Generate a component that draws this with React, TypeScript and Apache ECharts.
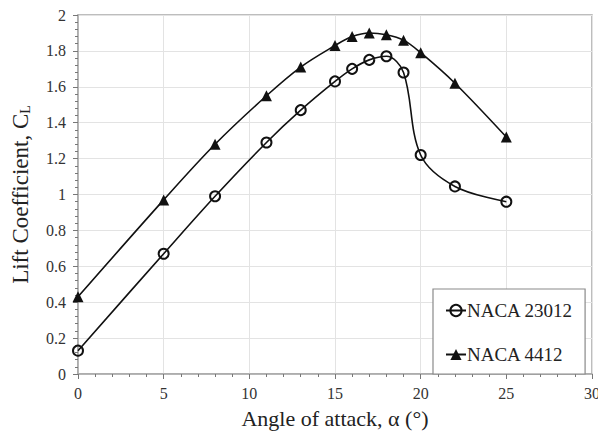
import React, { useEffect, useRef } from "react";
import * as echarts from "echarts";

const angles = [0, 5, 8, 11, 13, 15, 16, 17, 18, 19, 20, 22, 25];
const naca23012 = [0.13, 0.67, 0.99, 1.29, 1.47, 1.63, 1.7, 1.75, 1.77, 1.68, 1.22, 1.045, 0.96];
const naca4412 = [0.43, 0.97, 1.28, 1.55, 1.71, 1.83, 1.88, 1.9, 1.89, 1.86, 1.79, 1.62, 1.32];
const seriesNames = ["NACA 23012", "NACA 4412"];

const FONT = "Liberation Serif";

export default function App() {
  const ref = useRef<HTMLDivElement>(null);
  useEffect(() => {
    if (!ref.current) return;
    const chart = echarts.init(ref.current, undefined, { renderer: "svg" });
    const toPairs = (ys: number[]) => angles.map((x, i) => [x, ys[i]]);
    chart.setOption({
      animation: false,
      backgroundColor: "#fff",
      textStyle: { fontFamily: FONT },
      grid: {
        left: 78,
        right: 14,
        top: 15,
        bottom: 67,
        show: true,
        borderColor: "#a8a8a8",
        borderWidth: 1.5,
      },
      legend: {
        orient: "vertical",
        left: 433,
        top: 289,
        padding: [12, 12, 10, 12],
        itemGap: 25,
        itemWidth: 20,
        itemHeight: 14,
        backgroundColor: "#fff",
        borderColor: "#8a8a8a",
        borderWidth: 1.2,
        borderRadius: 0,
        textStyle: { fontFamily: FONT, fontSize: 19, color: "#222", padding: [0, 0, 0, -4] },
        data: seriesNames,
      },
      xAxis: {
        type: "value",
        min: 0,
        max: 30,
        interval: 5,
        name: "Angle of attack, α (°)",
        nameLocation: "middle",
        nameGap: 33,
        nameTextStyle: { fontFamily: FONT, fontSize: 22, color: "#222" },
        axisLine: { show: true, lineStyle: { color: "#a8a8a8", width: 1.5 } },
        axisTick: { show: true, length: 5, lineStyle: { color: "#777" } },
        minorTick: { show: true, splitNumber: 5, length: 3, lineStyle: { color: "#777" } },
        splitLine: { show: true, lineStyle: { color: "#e3e3e3", width: 1 } },
        axisLabel: { fontFamily: FONT, fontSize: 16, color: "#333", margin: 11 },
      },
      yAxis: {
        type: "value",
        min: 0,
        max: 2,
        interval: 0.2,
        name: "{a|Lift Coefficient, C}{b|L}",
        nameLocation: "middle",
        nameGap: 38,
        nameTextStyle: {
          fontFamily: FONT,
          fontSize: 23,
          color: "#222",
          rich: {
            a: { fontFamily: FONT, fontSize: 23, color: "#222", lineHeight: 30, verticalAlign: "middle" },
            b: { fontFamily: FONT, fontSize: 14, color: "#222", lineHeight: 30, verticalAlign: "bottom", padding: [0, 0, 3, 0] },
          },
        },
        axisLine: { show: true, lineStyle: { color: "#a8a8a8", width: 1.5 } },
        axisTick: { show: true, length: 5, lineStyle: { color: "#777" } },
        minorTick: { show: true, splitNumber: 5, length: 3, lineStyle: { color: "#777" } },
        splitLine: { show: true, lineStyle: { color: "#e3e3e3", width: 1 } },
        axisLabel: { fontFamily: FONT, fontSize: 16, color: "#333", margin: 12 },
      },
      series: [
        {
          name: seriesNames[0],
          type: "line",
          data: toPairs(naca23012),
          smooth: 0.35,
          symbol: "circle",
          symbolSize: 10,
          showSymbol: true,
          lineStyle: { color: "#111", width: 1.6 },
          itemStyle: { color: "rgba(255,255,255,0)", borderColor: "#111", borderWidth: 2 },
          z: 3,
        },
        {
          name: seriesNames[1],
          type: "line",
          data: toPairs(naca4412),
          smooth: 0.35,
          symbol: "triangle",
          symbolSize: 11,
          showSymbol: true,
          lineStyle: { color: "#111", width: 1.6 },
          itemStyle: { color: "#111", borderColor: "#111", borderWidth: 0 },
          z: 3,
        },
      ],
    });
    return () => chart.dispose();
  }, []);
  return (
    <div style={{ position: "relative", width: 606, height: 441, margin: -8 }}>
      <div ref={ref} style={{ position: "absolute", left: 0, top: 0, width: 606, height: 441 }} />
      <div
        style={{
          position: "absolute",
          left: 4,
          top: 2,
          width: 602,
          height: 439,
          borderLeft: "1px solid #707070",
          borderTop: "1px solid #707070",
          pointerEvents: "none",
          boxSizing: "border-box",
        }}
      />
    </div>
  );
}
